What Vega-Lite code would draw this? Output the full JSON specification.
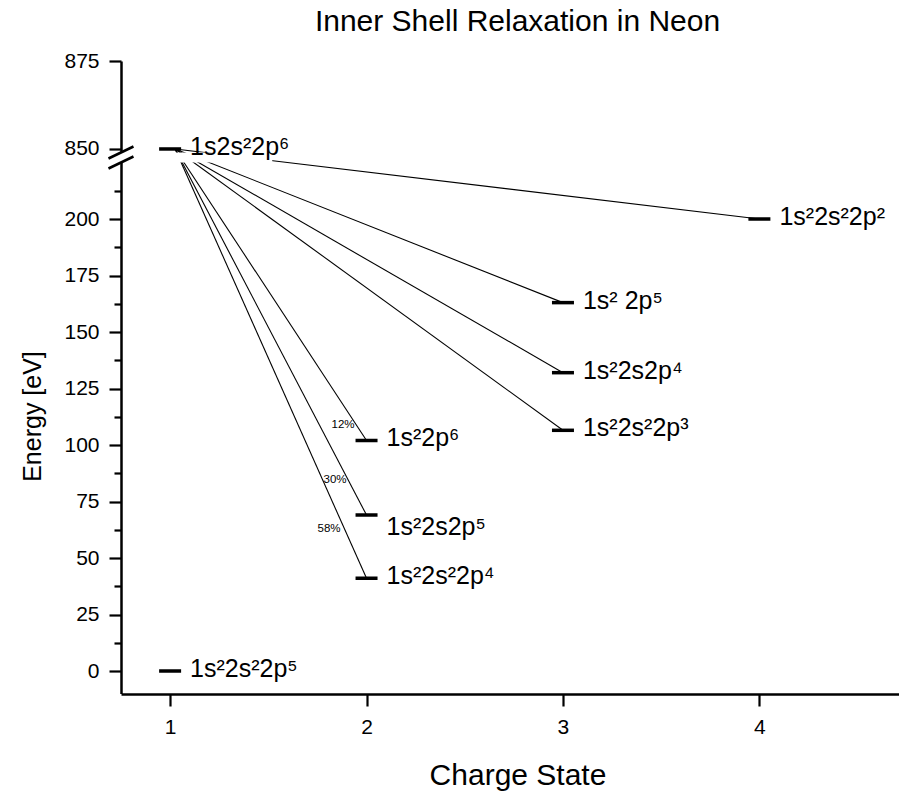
{
  "$schema": "https://vega.github.io/schema/vega-lite/v6.json",
  "autosize": {"type": "none"},
  "padding": {"left": 121, "top": 61, "right": 0, "bottom": 98},
  "width": 778,
  "height": 633,
  "background": "white",
  "config": {
    "view": {"stroke": null},
    "font": "Liberation Sans",
    "axis": {
      "grid": false,
      "zindex": 0,
      "domainColor": "black",
      "domainWidth": 2.5,
      "tickColor": "black",
      "tickWidth": 2.2,
      "labelColor": "black",
      "labelFont": "Liberation Sans",
      "labelFontSize": 21,
      "labelPadding": 10,
      "titleColor": "black",
      "titleFont": "Liberation Sans",
      "titleFontSize": 30,
      "titleFontWeight": "normal"
    }
  },
  "title": {
    "text": "Inner Shell Relaxation in Neon",
    "font": "Liberation Sans",
    "fontSize": 30,
    "fontWeight": "normal",
    "color": "black",
    "anchor": "middle",
    "frame": "group",
    "dx": 7.5,
    "baseline": "alphabetic",
    "offset": -11
  },
  "data": {
    "values": [
      {"charge": 1, "energy": 850, "label": "1s2s²2p⁶"},
      {"charge": 1, "energy": 0, "label": "1s²2s²2p⁵"},
      {"charge": 2, "energy": 102, "label": "1s²2p⁶", "pct": "12%", "fromCharge": 1, "fromEnergy": 850},
      {"charge": 2, "energy": 69, "label": "1s²2s2p⁵", "pct": "30%", "fromCharge": 1, "fromEnergy": 850},
      {"charge": 2, "energy": 41, "label": "1s²2s²2p⁴", "pct": "58%", "fromCharge": 1, "fromEnergy": 850},
      {"charge": 3, "energy": 163, "label": "1s² 2p⁵", "fromCharge": 1, "fromEnergy": 850},
      {"charge": 3, "energy": 132, "label": "1s²2s2p⁴", "fromCharge": 1, "fromEnergy": 850},
      {"charge": 3, "energy": 106.5, "label": "1s²2s²2p³", "fromCharge": 1, "fromEnergy": 850},
      {"charge": 4, "energy": 200, "label": "1s²2s²2p²", "fromCharge": 1, "fromEnergy": 850}
    ]
  },
  "resolve": {"scale": {"y": "shared", "x": "shared"}, "axis": {"y": "independent", "x": "independent"}},
  "layer": [
    {
      "transform": [{"filter": "datum.charge > 1"}],
      "mark": {"type": "rule", "color": "black", "strokeWidth": 1.1, "xOffset": 5},
      "encoding": {
        "x": {
          "field": "fromCharge",
          "type": "quantitative",
          "scale": {"domain": [0.75, 4.7107], "nice": false, "zero": false},
          "axis": {
            "orient": "bottom",
            "values": [1, 2, 3, 4],
            "format": "d",
            "labelFontSize": 21,
            "labelFont": "Liberation Sans",
            "labelPadding": 10,
            "title": "Charge State",
            "titleX": 396.5,
            "titleY": 90.3,
            "titleAlign": "center",
            "titleBaseline": "alphabetic",
            "tickSize": 12
          }
        },
        "y": {
          "field": "fromEnergy",
          "type": "quantitative",
          "scale": {"domain": [-10, 225, 849, 875], "range": [632.6, 101.5, 91.5, 0], "nice": false, "zero": false},
          "axis": {
            "orient": "left",
            "values": [0, 25, 50, 75, 100, 125, 150, 175, 200, 850, 875],
            "labelFontSize": 21,
            "labelFont": "Liberation Sans",
            "labelPadding": 10,
            "title": "Energy [eV]",
            "titleFontSize": 25,
            "titleAngle": -90,
            "titleX": -89,
            "titleY": 355,
            "titleAlign": "center",
            "titleBaseline": "middle",
            "tickSize": 12
          }
        },
        "x2": {"field": "charge"},
        "y2": {"field": "energy"}
      }
    },
    {
      "data": {"values": [{}]},
      "mark": {"type": "rect", "color": "white", "opacity": 1, "xOffset": -4},
      "encoding": {
        "x": {"datum": 0.75, "type": "quantitative", "axis": null},
        "x2": {"datum": 1.52},
        "y": {"datum": 849, "type": "quantitative", "axis": null},
        "y2": {"datum": 225}
      }
    },
    {
      "mark": {"type": "tick", "orient": "horizontal", "color": "black", "opacity": 1, "size": 22, "thickness": 3.5},
      "encoding": {
        "x": {"field": "charge", "type": "quantitative", "axis": null},
        "y": {
          "field": "energy",
          "type": "quantitative",
          "axis": {
            "orient": "left",
            "values": [12.5, 37.5, 62.5, 87.5, 112.5, 137.5, 162.5, 187.5, 212.5],
            "labels": false,
            "domain": false,
            "title": null,
            "tickSize": 7
          }
        }
      }
    },
    {
      "transform": [{"filter": "datum.energy != 69"}],
      "mark": {"type": "text", "align": "left", "baseline": "middle", "dx": 20, "dy": -2, "fontSize": 25, "font": "Liberation Sans", "color": "black"},
      "encoding": {
        "x": {"field": "charge", "type": "quantitative", "axis": null},
        "y": {"field": "energy", "type": "quantitative", "axis": null},
        "text": {"field": "label"}
      }
    },
    {
      "transform": [{"filter": "datum.energy == 69"}],
      "mark": {"type": "text", "align": "left", "baseline": "middle", "dx": 20, "dy": 12, "fontSize": 25, "font": "Liberation Sans", "color": "black"},
      "encoding": {
        "x": {"field": "charge", "type": "quantitative", "axis": null},
        "y": {"field": "energy", "type": "quantitative", "axis": null},
        "text": {"field": "label"}
      }
    },
    {
      "transform": [{"filter": "datum.pct == '12%'"}],
      "mark": {"type": "text", "align": "right", "baseline": "middle", "dx": -12, "dy": -15.5, "fontSize": 11.5, "font": "Liberation Sans", "color": "black"},
      "encoding": {
        "x": {"field": "charge", "type": "quantitative", "axis": null},
        "y": {"field": "energy", "type": "quantitative", "axis": null},
        "text": {"field": "pct"}
      }
    },
    {
      "transform": [{"filter": "datum.pct == '30%'"}],
      "mark": {"type": "text", "align": "right", "baseline": "middle", "dx": -20, "dy": -35, "fontSize": 11.5, "font": "Liberation Sans", "color": "black"},
      "encoding": {
        "x": {"field": "charge", "type": "quantitative", "axis": null},
        "y": {"field": "energy", "type": "quantitative", "axis": null},
        "text": {"field": "pct"}
      }
    },
    {
      "transform": [{"filter": "datum.pct == '58%'"}],
      "mark": {"type": "text", "align": "right", "baseline": "middle", "dx": -26, "dy": -49, "fontSize": 11.5, "font": "Liberation Sans", "color": "black"},
      "encoding": {
        "x": {"field": "charge", "type": "quantitative", "axis": null},
        "y": {"field": "energy", "type": "quantitative", "axis": null},
        "text": {"field": "pct"}
      }
    },
    {
      "data": {"values": [{}]},
      "mark": {"type": "rule", "color": "black", "strokeWidth": 2.5, "xOffset": -12.5, "x2Offset": 12.5, "yOffset": 6, "y2Offset": -6},
      "encoding": {
        "x": {"datum": 0.75, "type": "quantitative", "axis": null},
        "x2": {"datum": 0.75},
        "y": {"datum": 849, "type": "quantitative", "axis": null},
        "y2": {"datum": 849}
      }
    },
    {
      "data": {"values": [{}]},
      "mark": {"type": "rule", "color": "black", "strokeWidth": 2.5, "xOffset": -12.5, "x2Offset": 12.5, "yOffset": 6, "y2Offset": -6},
      "encoding": {
        "x": {"datum": 0.75, "type": "quantitative", "axis": null},
        "x2": {"datum": 0.75},
        "y": {"datum": 225, "type": "quantitative", "axis": null},
        "y2": {"datum": 225}
      }
    }
  ]
}
